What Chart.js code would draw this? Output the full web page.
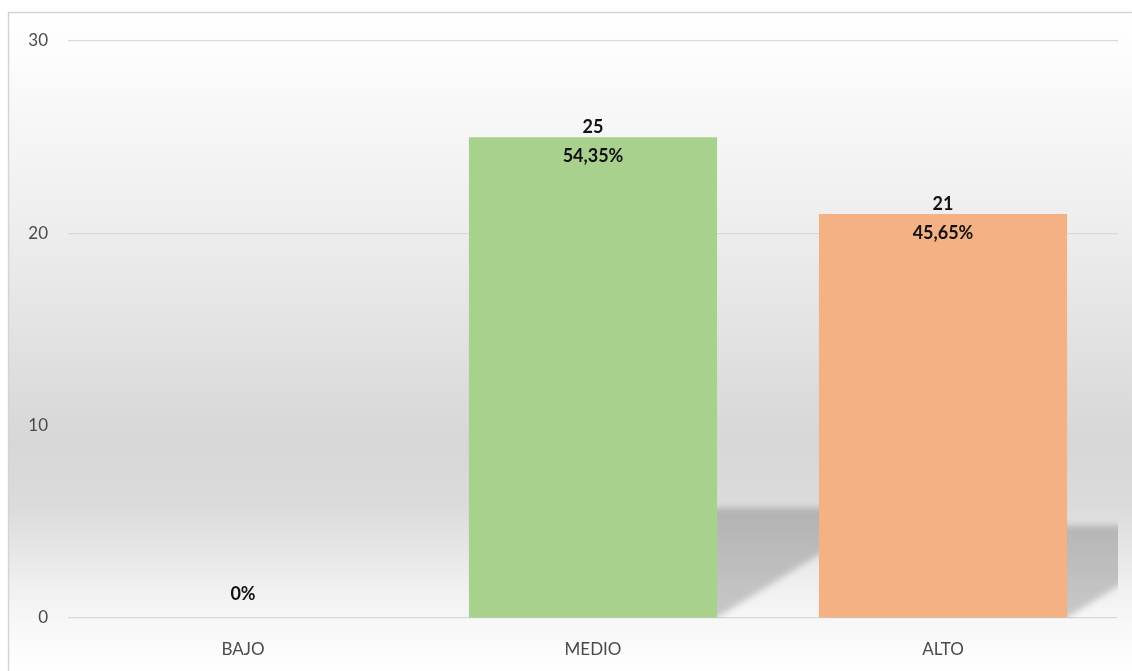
<!DOCTYPE html>
<html>
<head>
<meta charset="utf-8">
<script src="https://cdn.jsdelivr.net/npm/chart.js@4"></script>
<style>
  html, body { margin: 0; padding: 0; background: #fff; }
  canvas { display: block; }
</style>
</head>
<body>
<canvas id="chartBar" width="1132" height="671"></canvas>
<script>
var categories = ['BAJO', 'MEDIO', 'ALTO'];
var counts = [0, 25, 21];
var barColors = ['#a9d18e', '#a9d18e', '#f4b183'];
var yTicks = [0, 10, 20, 30];

var total = counts.reduce(function (a, b) { return a + b; }, 0);
function pctText(v) {
  if (v === 0) return '0%';
  return (v / total * 100).toFixed(2).replace('.', ',') + '%';
}

// frame + soft gray backdrop
var backdrop = {
  id: 'backdrop',
  beforeDraw: function (chart) {
    var ctx = chart.ctx;
    var g = ctx.createLinearGradient(0, 12, 0, 671);
    g.addColorStop(0, '#ffffff');
    g.addColorStop(0.07, '#fcfcfc');
    g.addColorStop(0.35, '#ececec');
    g.addColorStop(0.65, '#d7d7d7');
    g.addColorStop(0.75, '#dbdbdb');
    g.addColorStop(0.88, '#f1f1f1');
    g.addColorStop(0.93, '#f8f8f8');
    g.addColorStop(1, '#ffffff');
    ctx.save();
    ctx.fillStyle = '#ffffff';
    ctx.fillRect(0, 0, chart.width, chart.height);
    ctx.fillStyle = g;
    ctx.fillRect(8, 12, chart.width - 8, chart.height - 12);
    ctx.strokeStyle = '#d4d4d4';
    ctx.lineWidth = 1.5;
    ctx.beginPath();
    ctx.moveTo(8.5, chart.height);
    ctx.lineTo(8.5, 12.5);
    ctx.lineTo(chart.width, 12.5);
    ctx.stroke();
    ctx.restore();
  }
};

// slanted floor shadow behind each bar
var barShadow = {
  id: 'barShadow',
  beforeDatasetsDraw: function (chart) {
    var ctx = chart.ctx, area = chart.chartArea;
    var meta = chart.getDatasetMeta(0);
    ctx.save();
    ctx.beginPath();
    ctx.rect(area.left, area.top, area.right - area.left, area.bottom - area.top);
    ctx.clip();
    ctx.filter = 'blur(3px)';
    ctx.fillStyle = 'rgba(0,0,0,0.19)';
    meta.data.forEach(function (bar) {
      var p = bar.getProps(['x', 'y', 'base', 'width'], true);
      var h = p.base - p.y;
      if (h <= 0) return;
      var xl = p.x - p.width / 2, xr = p.x + p.width / 2;
      var dx = h * 0.37, dy = h * 0.228;
      ctx.beginPath();
      ctx.moveTo(xl, p.base);
      ctx.lineTo(xr, p.base);
      ctx.lineTo(xr + dx, p.base - dy);
      ctx.lineTo(xl + dx, p.base - dy);
      ctx.closePath();
      ctx.fill();
    });
    ctx.restore();
  }
};

// value and share written at the top of each bar
var barLabels = {
  id: 'barLabels',
  afterDatasetsDraw: function (chart) {
    var ctx = chart.ctx;
    var meta = chart.getDatasetMeta(0);
    ctx.save();
    ctx.font = 'bold 18px Lato';
    ctx.fillStyle = '#111111';
    ctx.textAlign = 'center';
    ctx.textBaseline = 'middle';
    meta.data.forEach(function (bar, i) {
      var p = bar.getProps(['x', 'y', 'base'], true);
      var v = counts[i];
      if (v === 0) {
        ctx.fillText(pctText(v), p.x, p.base - 24);
      } else {
        ctx.fillText(String(v), p.x, p.y - 10);
        ctx.fillText(pctText(v), p.x, p.y + 19);
      }
    });
    ctx.restore();
  }
};

Chart.defaults.font.family = 'Lato';
Chart.defaults.color = '#4a4a4a';

var ctx = document.getElementById('chartBar').getContext('2d');
var chartBar = new Chart(ctx, {
  type: 'bar',
  data: {
    labels: categories,
    datasets: [{
      data: counts,
      backgroundColor: barColors,
      borderWidth: 0,
      categoryPercentage: 1,
      barPercentage: 0.709
    }]
  },
  options: {
    responsive: false,
    animation: false,
    devicePixelRatio: 1,
    layout: { padding: { top: 41, right: 14, left: 0, bottom: 0 } },
    plugins: { legend: { display: false }, tooltip: { enabled: false } },
    scales: {
      x: {
        grid: { display: false, drawTicks: false },
        border: { display: false },
        ticks: { font: { size: 17 }, padding: 21 },
        afterFit: function (s) { s.height = 53; }
      },
      y: {
        min: yTicks[0],
        max: yTicks[yTicks.length - 1],
        afterBuildTicks: function (s) {
          s.ticks = yTicks.map(function (v) { return { value: v }; });
        },
        grid: { color: '#d9d9d9', lineWidth: 1.2, drawTicks: false },
        border: { display: false },
        ticks: { font: { size: 17 }, padding: 20 },
        afterFit: function (s) { s.width = 68; }
      }
    }
  },
  plugins: [backdrop, barShadow, barLabels]
});
</script>
</body>
</html>
